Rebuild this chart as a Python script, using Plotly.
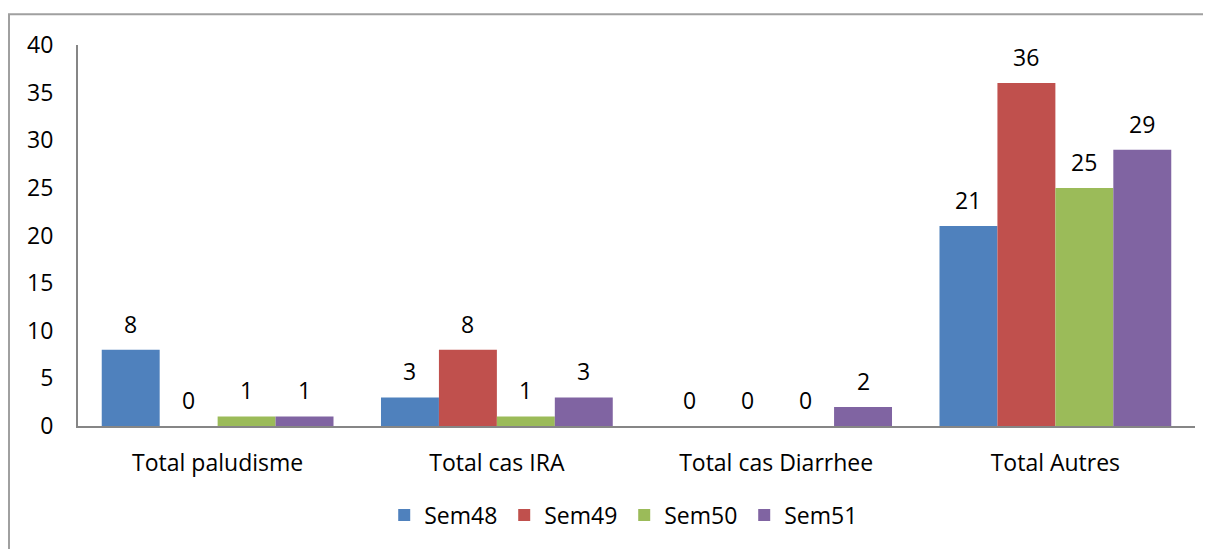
import plotly.graph_objects as go

categories = ['Total paludisme', 'Total cas IRA', 'Total cas Diarrhee', 'Total Autres']
series_names = ['Sem48', 'Sem49', 'Sem50', 'Sem51']
sem48 = [8, 3, 0, 21]
sem49 = [0, 8, 0, 36]
sem50 = [1, 1, 0, 25]
sem51 = [1, 3, 2, 29]
y_ticks = [0, 5, 10, 15, 20, 25, 30, 35, 40]

colors = ['#4F81BD', '#C0504D', '#9BBB59', '#8064A2']
font_family = 'Open Sans, Noto Sans, sans-serif'
font_size = 23

# la page ajoute une marge de 8 px autour de la figure
W, H = 1203, 541
margin = dict(l=70, r=16, t=37, b=119)
plot_w = W - margin['l'] - margin['r']
plot_h = H - margin['t'] - margin['b']
bargap = 0.17
bar_px = plot_w / len(categories) * (1 - bargap) / len(series_names)

fig = go.Figure()
all_series = [sem48, sem49, sem50, sem51]
for i, (name, values) in enumerate(zip(series_names, all_series)):
    fig.add_trace(go.Bar(
        name=name,
        x=categories,
        y=values,
        marker=dict(color=colors[i], line=dict(width=0)),
    ))
    # étiquettes de données au-dessus des barres
    for cat, v in zip(categories, values):
        fig.add_annotation(
            x=cat, y=v, xref='x', yref='y',
            text=str(v), showarrow=False,
            xshift=(i - 1.5) * bar_px, yshift=26,
            yanchor='middle',
            font=dict(size=font_size, color='#000000', family=font_family),
        )

# cadre du graphique
fig.add_shape(
    type='rect', xref='paper', yref='paper',
    x0=(1 - margin['l']) / plot_w, x1=(W + 20 - margin['l']) / plot_w,
    y0=-(H + 20 - margin['t'] - plot_h) / plot_h, y1=1 + (margin['t'] - 6) / plot_h,
    line=dict(color='#A0A0A0', width=2), layer='below',
)

fig.update_layout(
    width=W, height=H,
    margin=margin,
    paper_bgcolor='white',
    plot_bgcolor='white',
    barmode='group',
    bargap=bargap,
    bargroupgap=0,
    font=dict(family=font_family, size=font_size, color='#000000'),
    showlegend=True,
    legend=dict(
        orientation='h',
        x=0.489, xanchor='center',
        y=-0.234, yanchor='middle',
        font=dict(size=font_size),
        entrywidth=75,
        itemsizing='constant',
    ),
    xaxis=dict(
        showline=True, linecolor='#868686', linewidth=2,
        showgrid=False, ticks='', ticklabelstandoff=15,
        tickfont=dict(size=font_size), automargin=False,
    ),
    yaxis=dict(
        range=[0, 40], tickvals=y_ticks,
        showline=True, linecolor='#868686', linewidth=2,
        showgrid=False, zeroline=False, ticks='',
        ticklabelstandoff=18,
        tickfont=dict(size=font_size), automargin=False,
    ),
)

fig.write_html('out.html')
